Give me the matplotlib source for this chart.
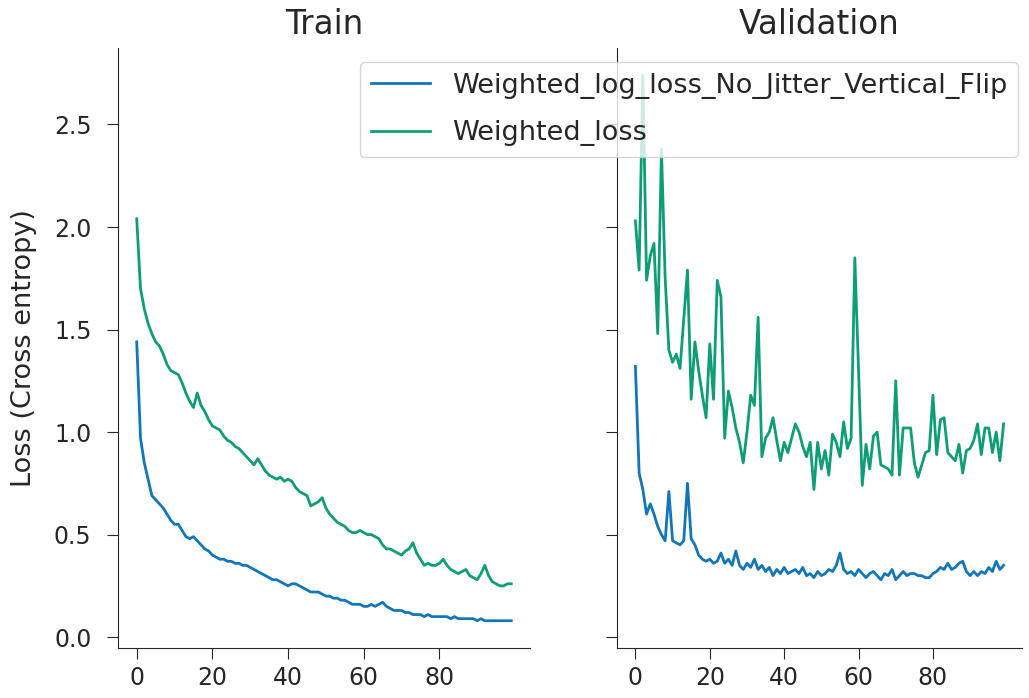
import matplotlib
matplotlib.use("Agg")
import matplotlib.pyplot as plt
import numpy as np

# ── data ──
epochs = np.arange(100)

train_flip = [
    1.44, 0.97, 0.85, 0.77, 0.69, 0.67, 0.65, 0.63, 0.60, 0.57,
    0.55, 0.55, 0.52, 0.49, 0.48, 0.49, 0.47, 0.45, 0.43, 0.42,
    0.40, 0.39, 0.38, 0.38, 0.37, 0.37, 0.36, 0.36, 0.35, 0.35,
    0.34, 0.33, 0.32, 0.31, 0.30, 0.29, 0.28, 0.28, 0.27, 0.26,
    0.25, 0.26, 0.26, 0.25, 0.24, 0.23, 0.22, 0.22, 0.22, 0.21,
    0.20, 0.20, 0.19, 0.19, 0.18, 0.18, 0.17, 0.16, 0.16, 0.16,
    0.15, 0.15, 0.16, 0.15, 0.16, 0.17, 0.15, 0.14, 0.13, 0.13,
    0.13, 0.12, 0.12, 0.11, 0.11, 0.11, 0.10, 0.11, 0.10, 0.10,
    0.10, 0.10, 0.10, 0.09, 0.10, 0.09, 0.09, 0.09, 0.09, 0.09,
    0.08, 0.09, 0.08, 0.08, 0.08, 0.08, 0.08, 0.08, 0.08, 0.08,
]

train_weighted = [
    2.04, 1.70, 1.60, 1.53, 1.48, 1.44, 1.42, 1.38, 1.33, 1.30,
    1.29, 1.28, 1.24, 1.19, 1.15, 1.12, 1.19, 1.13, 1.10, 1.06,
    1.03, 1.02, 1.01, 0.98, 0.96, 0.95, 0.93, 0.92, 0.90, 0.88,
    0.86, 0.84, 0.87, 0.84, 0.81, 0.79, 0.78, 0.77, 0.78, 0.76,
    0.77, 0.76, 0.73, 0.71, 0.70, 0.69, 0.64, 0.65, 0.66, 0.68,
    0.63, 0.60, 0.58, 0.56, 0.55, 0.54, 0.52, 0.51, 0.51, 0.52,
    0.51, 0.50, 0.50, 0.49, 0.48, 0.45, 0.43, 0.43, 0.42, 0.41,
    0.40, 0.42, 0.43, 0.46, 0.41, 0.38, 0.35, 0.36, 0.35, 0.35,
    0.36, 0.38, 0.35, 0.33, 0.32, 0.31, 0.32, 0.33, 0.30, 0.29,
    0.28, 0.31, 0.35, 0.30, 0.27, 0.26, 0.25, 0.25, 0.26, 0.26,
]

val_flip = [
    1.32, 0.80, 0.72, 0.60, 0.65, 0.60, 0.54, 0.50, 0.47, 0.71,
    0.47, 0.46, 0.45, 0.47, 0.75, 0.48, 0.45, 0.40, 0.38, 0.37,
    0.38, 0.36, 0.37, 0.41, 0.36, 0.38, 0.35, 0.42, 0.35, 0.33,
    0.36, 0.34, 0.38, 0.33, 0.35, 0.32, 0.34, 0.30, 0.33, 0.31,
    0.34, 0.31, 0.32, 0.33, 0.31, 0.34, 0.30, 0.31, 0.29, 0.32,
    0.30, 0.31, 0.33, 0.32, 0.35, 0.41, 0.33, 0.31, 0.32, 0.30,
    0.33, 0.31, 0.29, 0.31, 0.32, 0.30, 0.28, 0.31, 0.30, 0.33,
    0.28, 0.30, 0.32, 0.30, 0.31, 0.31, 0.30, 0.30, 0.29, 0.29,
    0.31, 0.32, 0.34, 0.33, 0.36, 0.33, 0.34, 0.36, 0.37, 0.32,
    0.30, 0.32, 0.30, 0.32, 0.31, 0.34, 0.32, 0.37, 0.33, 0.35,
]

val_weighted = [
    2.03, 1.79, 2.74, 1.74, 1.86, 1.92, 1.48, 2.38, 1.75, 1.40,
    1.34, 1.38, 1.31, 1.55, 1.79, 1.16, 1.44, 1.30, 1.18, 1.07,
    1.43, 1.16, 1.74, 1.66, 0.97, 1.20, 1.12, 1.02, 0.95, 0.85,
    1.00, 1.18, 1.13, 1.56, 0.88, 0.97, 1.00, 1.07, 0.96, 0.86,
    0.95, 0.90, 0.97, 1.04, 1.00, 0.93, 0.88, 0.95, 0.72, 0.95,
    0.82, 0.91, 0.79, 0.99, 0.95, 0.88, 1.05, 0.92, 0.97, 1.85,
    1.30, 0.74, 0.94, 0.82, 0.98, 1.00, 0.84, 0.83, 0.82, 0.79,
    1.25, 0.79, 1.02, 1.02, 1.02, 0.85, 0.78, 0.84, 0.90, 0.91,
    1.18, 0.89, 1.06, 1.07, 0.90, 0.88, 0.86, 0.94, 0.80, 0.91,
    0.92, 0.96, 1.04, 0.89, 1.02, 1.02, 0.90, 1.00, 0.86, 1.04,
]

labels = ["Weighted_log_loss_No_Jitter_Vertical_Flip", "Weighted_loss"]
colors = ["#1276ba", "#0e9e76"]

plt.rcParams['text.color'] = '.15'
plt.rcParams['axes.labelcolor'] = '.15'
plt.rcParams['xtick.color'] = '.15'
plt.rcParams['ytick.color'] = '.15'
plt.rcParams['axes.edgecolor'] = '.15'

fig = plt.figure(figsize=(10.29, 6.98), dpi=100)
ax1 = fig.add_axes([118 / 1029, 50 / 698, 412 / 1029, 600 / 698])
ax2 = fig.add_axes([617 / 1029, 50 / 698, 405 / 1029, 600 / 698], sharey=ax1)

for ax, series, title in [(ax1, (train_flip, train_weighted), "Train"),
                          (ax2, (val_flip, val_weighted), "Validation")]:
    for vals, lab, c in zip(series, labels, colors):
        ax.plot(epochs, vals, color=c, lw=2, label=lab)
    ax.set_title(title, fontsize=23.5, pad=10)
    ax.spines['top'].set_visible(False)
    ax.spines['right'].set_visible(False)
    ax.set_xticks([0, 20, 40, 60, 80])
    ax.tick_params(axis='x', labelsize=17, length=8, pad=5)
    ax.tick_params(axis='y', labelsize=17, length=8, pad=11)

ax1.set_ylabel("Loss (Cross entropy)", fontsize=19.5, labelpad=12)
ax1.set_yticks([0.0, 0.5, 1.0, 1.5, 2.0, 2.5])
plt.setp(ax2.get_yticklabels(), visible=False)

ax2.legend(loc='upper right', bbox_to_anchor=(1018 / 1029, 1 - 62 / 698),
           bbox_transform=fig.transFigure, borderaxespad=0,
           fontsize=19.5, labelspacing=0.8, handlelength=2.2)

plt.savefig("out.png", dpi=100)
